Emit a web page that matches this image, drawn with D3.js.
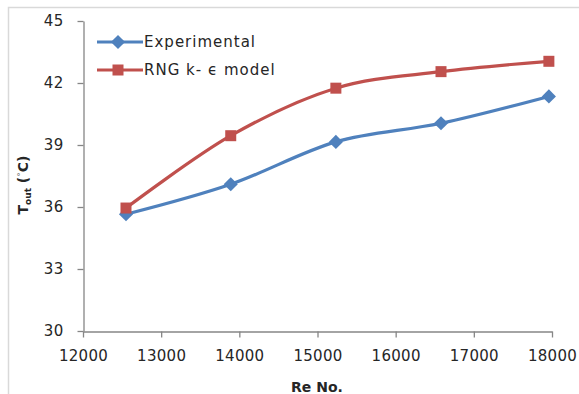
<!DOCTYPE html>
<html>
<head>
<meta charset="utf-8">
<script src="https://cdn.jsdelivr.net/npm/d3@7"></script>
<style>
  html, body { margin: 0; padding: 0; background: #fff; }
  svg { display: block; }
  text { font-family: "DejaVu Sans", Verdana, sans-serif; fill: #262626; }
</style>
</head>
<body>
<svg id="chart" width="579" height="394"></svg>
<script>
// Reynolds numbers of the runs
const reynolds = [12550, 13890, 15235, 16580, 17960];
// Outlet temperature, measured
const experimental = [35.65, 37.1, 39.15, 40.05, 41.35];
// Outlet temperature, RNG k-ε simulation
const rngModel = [35.95, 39.45, 41.75, 42.55, 43.05];

const xTicks = [12000, 13000, 14000, 15000, 16000, 17000, 18000];
const yTicks = [30, 33, 36, 39, 42, 45];

const seriesNames = ["Experimental", "RNG k- \u03F5 model"];
const seriesColors = ["#4F81BD", "#C0504D"];

const svg = d3.select("#chart");

// outer chart frame
svg.append("rect")
  .attr("x", 8.5).attr("y", 7.5)
  .attr("width", 600).attr("height", 420)
  .attr("fill", "none").attr("stroke", "#d9d9d9").attr("stroke-width", 1.5);

const x = d3.scaleLinear().domain([12000, 18000]).range([83, 552]);
const y = d3.scaleLinear().domain([30, 45]).range([331, 21]);

const axisColor = "#868686";

// x axis
const gx = svg.append("g").attr("transform", "translate(0,331.5)")
  .call(d3.axisBottom(x).tickValues(xTicks).tickSize(6).tickSizeOuter(0).tickPadding(13)
    .tickFormat(d3.format("d")));
gx.select(".domain").attr("stroke", axisColor).attr("stroke-width", 1.3);
gx.selectAll(".tick line").attr("stroke", axisColor).attr("stroke-width", 1.3);
gx.selectAll(".tick text").attr("font-size", 15).attr("fill", "#262626")
  .attr("letter-spacing", 0.3)
  .attr("font-family", "DejaVu Sans, Verdana, sans-serif");

// y axis
const gy = svg.append("g").attr("transform", "translate(83.5,0)")
  .call(d3.axisLeft(y).tickValues(yTicks).tickSize(6).tickSizeOuter(0).tickPadding(14));
gy.select(".domain").attr("stroke", axisColor).attr("stroke-width", 1.3);
gy.selectAll(".tick line").attr("stroke", axisColor).attr("stroke-width", 1.3);
gy.selectAll(".tick text").attr("font-size", 15).attr("fill", "#262626")
  .attr("letter-spacing", 0.3)
  .attr("font-family", "DejaVu Sans, Verdana, sans-serif");

// axis titles
svg.append("text")
  .attr("x", 317).attr("y", 392)
  .attr("text-anchor", "middle")
  .attr("font-size", 14).attr("font-weight", "bold")
  .text("Re No.");

const yTitle = svg.append("text")
  .attr("transform", "translate(28,185) rotate(-90)")
  .attr("text-anchor", "middle")
  .attr("font-size", 14).attr("font-weight", "bold");
yTitle.append("tspan").text("T");
yTitle.append("tspan").attr("font-size", 9).attr("dy", 3).text("out");
yTitle.append("tspan").attr("dy", -3).text(" (");
yTitle.append("tspan").attr("font-size", 9).attr("font-weight", "normal").attr("dy", -4).attr("fill", "#777").text("\u00B0");
yTitle.append("tspan").attr("dy", 4).text("C)");

// series lines and markers
const line = d3.line()
  .x((d, i) => x(reynolds[i]))
  .y(d => y(d))
  .curve(d3.curveCatmullRom.alpha(0));

const allSeries = [experimental, rngModel];

allSeries.forEach((vals, si) => {
  svg.append("path")
    .datum(vals)
    .attr("d", line)
    .attr("fill", "none")
    .attr("stroke", seriesColors[si])
    .attr("stroke-width", 3.2)
    .attr("stroke-linejoin", "round");
});

function drawMarker(g, si, cx, cy) {
  if (si === 0) {
    // square rotated 45°
    g.append("rect")
      .attr("x", -5).attr("y", -5)
      .attr("width", 10).attr("height", 10)
      .attr("transform", `translate(${cx},${cy}) rotate(45)`)
      .attr("fill", seriesColors[si]);
  } else {
    g.append("rect")
      .attr("x", cx - 5.5).attr("y", cy - 5.5)
      .attr("width", 11).attr("height", 11)
      .attr("fill", seriesColors[si]);
  }
}

const markers = svg.append("g");
allSeries.forEach((vals, si) => {
  vals.forEach((v, i) => drawMarker(markers, si, x(reynolds[i]), y(v)));
});

// legend
const legend = svg.append("g");
seriesNames.forEach((name, si) => {
  const ly = 42 + si * 28;
  legend.append("line")
    .attr("x1", 97).attr("x2", 143).attr("y1", ly).attr("y2", ly)
    .attr("stroke", seriesColors[si]).attr("stroke-width", 3.2);
  drawMarker(legend, si, 118, ly);
  legend.append("text")
    .attr("x", 144).attr("y", ly + 5)
    .attr("font-size", 15)
    .attr("letter-spacing", 1)
    .text(name);
});
</script>
</body>
</html>
